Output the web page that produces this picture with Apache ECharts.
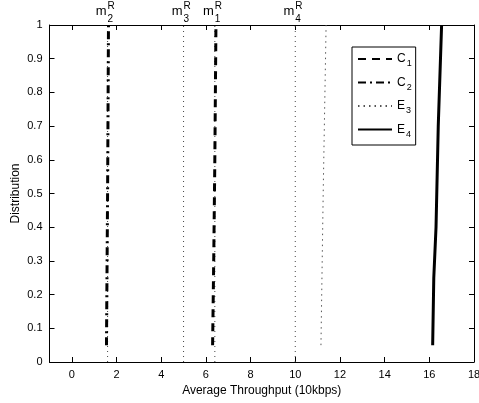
<!DOCTYPE html>
<html><head><meta charset="utf-8">
<script src="https://cdn.jsdelivr.net/npm/echarts@6/dist/echarts.min.js"></script>
<style>html,body{margin:0;padding:0;background:#fff}#c{width:479px;height:403px}</style>
</head><body><div id="c"></div>
<script>
// Data
const xTicks = [0, 2, 4, 6, 8, 10, 12, 14, 16, 18];
const yTicks = [0, 0.1, 0.2, 0.3, 0.4, 0.5, 0.6, 0.7, 0.8, 0.9, 1];
const C1 = [[6.30, 0.05], [6.35, 0.3], [6.40, 0.6], [6.45, 1.0]];
const C2 = [[1.55, 0.05], [1.60, 0.5], [1.64, 1.0]];
const E3 = [[11.15, 0.05], [11.25, 0.5], [11.38, 1.0]];
const E4 = [[16.15, 0.05], [16.2, 0.25], [16.3, 0.4], [16.4, 0.7], [16.55, 1.0]];
const refNames = ['1', '2', '3', '4'];
const refX = [6.4, 1.6, 5.0, 10.0];

const font = 'Liberation Sans, Arial, Helvetica, sans-serif';
const chart = echarts.init(document.getElementById('c'), null, {renderer: 'canvas'});
const rich = {
  b: {fontSize: 12, fontFamily: font, color: '#000', lineHeight: 19, verticalAlign: 'middle'},
  s: {fontSize: 9, fontFamily: font, color: '#000', lineHeight: 19, verticalAlign: 'bottom', padding: [0,0,0,1]}
};
const refSeries = refX.map((x, i) => ({
  type: 'line', name: 'ref' + i, data: [[x, 0], [x, 1]], symbol: 'none', silent: true,
  lineStyle: {color: '#444', width: 1, type: [1, 4]}, z: 1
}));
chart.setOption({
  animation: false,
  grid: {left: 49.5, right: 5, top: 25, bottom: 41, outerBoundsMode: 'none', containLabel: false},
  legend: {
    data: ['C1', 'C2', 'E3', 'E4'], orient: 'vertical', left: 352, top: 47,
    itemWidth: 34, itemHeight: 12, itemGap: 8, padding: [6, 4, 6, 5],
    borderColor: '#000', borderWidth: 1, backgroundColor: '#fff',
    itemStyle: {opacity: 0},
    formatter: n => '{b|' + n[0] + '}{s|' + n.slice(1) + '}',
    textStyle: {rich: rich, fontFamily: font, color: '#000'}
  },
  xAxis: [{
    type: 'value', min: -1, max: 18, position: 'bottom',
    name: 'Average Throughput (10kbps)', nameLocation: 'middle', nameGap: 22,
    nameTextStyle: {fontFamily: font, fontSize: 12, color: '#000'},
    axisLine: {onZero: false, lineStyle: {color: '#000', width: 1}},
    axisTick: {inside: true, length: 5, customValues: xTicks, lineStyle: {color: '#000'}},
    axisLabel: {customValues: xTicks, fontFamily: font, fontSize: 11, color: '#000', margin: 7, showMaxLabel: true},
    splitLine: {show: false}
  }, {
    type: 'value', min: -1, max: 18, position: 'top',
    axisLine: {onZero: false, lineStyle: {color: '#000', width: 1}},
    axisTick: {inside: true, length: 5, customValues: xTicks, lineStyle: {color: '#000'}},
    axisLabel: {show: false}, splitLine: {show: false}
  }],
  yAxis: [{
    type: 'value', min: 0, max: 1, interval: 0.1, position: 'left',
    name: 'Distribution', nameLocation: 'middle', nameGap: 28, nameMoveOverlap: false,
    nameTextStyle: {fontFamily: font, fontSize: 12, color: '#000'},
    axisLine: {show: true, onZero: false, lineStyle: {color: '#000', width: 1}},
    axisTick: {show: true, inside: true, length: 5, lineStyle: {color: '#000'}},
    axisLabel: {fontFamily: font, fontSize: 11, color: '#000', margin: 7, formatter: v => String(Math.round(v * 10) / 10)},
    splitLine: {show: false}
  }, {
    type: 'value', min: 0, max: 1, interval: 0.1, position: 'right',
    axisLine: {show: true, onZero: false, lineStyle: {color: '#000', width: 1}},
    axisTick: {show: true, inside: true, length: 5, lineStyle: {color: '#000'}},
    axisLabel: {show: false}, splitLine: {show: false}
  }],
  series: refSeries.concat([
    {type: 'line', name: 'C1', data: C1, symbol: 'none', lineStyle: {color: '#000', width: 3, type: [8, 6]}, itemStyle: {color: '#000'}, z: 3},
    {type: 'line', name: 'C2', data: C2, symbol: 'none', lineStyle: {color: '#000', width: 3, type: [8, 4, 2, 4]}, itemStyle: {color: '#000'}, z: 3},
    {type: 'line', name: 'E3', data: E3, symbol: 'none', lineStyle: {color: '#555', width: 1, type: [1.5, 4]}, itemStyle: {color: '#555'}, z: 3},
    {type: 'line', name: 'E4', data: E4, symbol: 'none', lineStyle: {color: '#000', width: 3}, itemStyle: {color: '#000'}, z: 3}
  ])
});
// m^R_i labels above the plot, placed through the axis scale
const g = [];
refX.forEach((x, i) => {
  const p = chart.convertToPixel({xAxisIndex: 0, yAxisIndex: 0}, [x, 1]);
  g.push({type: 'text', x: p[0] - 1, y: 18, style: {text: 'm', font: '13px ' + font, fill: '#000', align: 'right', verticalAlign: 'bottom'}});
  g.push({type: 'text', x: p[0], y: 11, style: {text: 'R', font: '10px ' + font, fill: '#000', align: 'left', verticalAlign: 'bottom'}});
  g.push({type: 'text', x: p[0], y: 24, style: {text: refNames[i], font: '10px ' + font, fill: '#000', align: 'left', verticalAlign: 'bottom'}});
});
chart.setOption({graphic: g});
</script></body></html>
